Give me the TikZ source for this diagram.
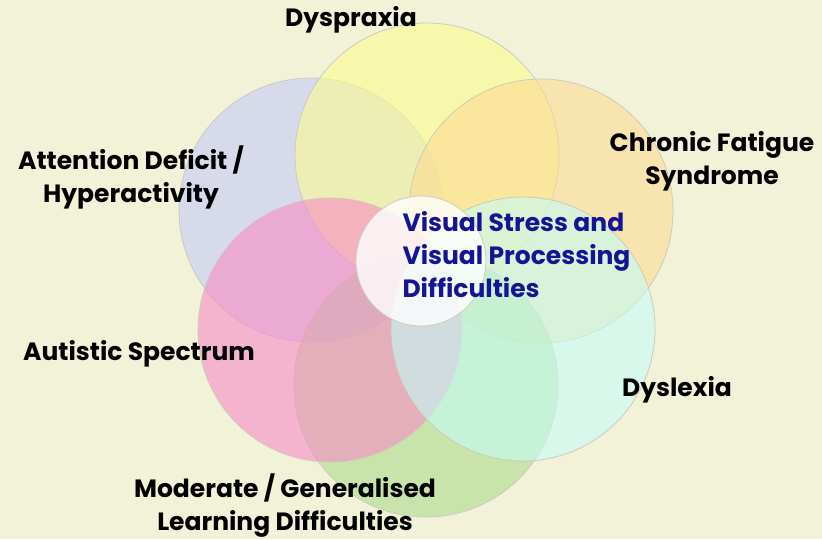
\documentclass[tikz,border=0pt]{standalone}
\usepackage{fontspec}
\setsansfont{Poppins}
\usetikzlibrary{positioning}
\definecolor{paper}{RGB}{242,242,217}
\definecolor{rim}{RGB}{205,202,190}
\definecolor{dysyel}{RGB}{252,252,142}
\definecolor{adhlav}{RGB}{197,202,247}
\definecolor{cfsorange}{RGB}{252,219,147}
\definecolor{autpink}{RGB}{247,139,197}
\definecolor{lexcyan}{RGB}{197,252,247}
\definecolor{mldgreen}{RGB}{172,219,139}
\definecolor{vsblue}{RGB}{20,20,150}

\begin{document}
\begin{tikzpicture}[x=1pt,y=-1pt,
  ring/.style={circle,draw=rim,line width=0.8pt,fill opacity=0.6,minimum size=264pt,inner sep=0pt},
  lbl/.style={font=\sffamily\bfseries\fontsize{25}{33}\selectfont,align=center,text=black}]
\fill[paper] (0,0) rectangle (822,539);
\useasboundingbox (0,0) rectangle (822,539);
% the six overlapping circles
\node[ring,fill=adhlav] (adh) at (311,210) {};
\node[ring,fill=dysyel] (dys) at (427,155) {};
\node[ring,fill=cfsorange] (cfs) at (541,211) {};
\node[ring,fill=mldgreen] (mld) at (426,385) {};
\node[ring,fill=autpink] (aut) at (330,330) {};
\node[ring,fill=lexcyan] (lex) at (523,329) {};
% centre
\node[circle,draw=rim,line width=0.8pt,fill=white,fill opacity=0.8,minimum size=130pt,inner sep=0pt] (vs) at (421,261) {};
\node[lbl,text=vsblue,align=left,anchor=west] (vstext) at (399,255) {Visual Stress and\\Visual Processing\\Difficulties};
% labels
\node[lbl] (dyslbl) at (351,20) {Dyspraxia};
\node[lbl] (adhlbl) at (131,177) {Attention Deficit /\\Hyperactivity};
\node[lbl] (cfslbl) at (712,161) {Chronic Fatigue\\Syndrome};
\node[lbl] (autlbl) at (139,354) {Autistic Spectrum};
\node[lbl] (lexlbl) at (677,390) {Dyslexia};
\node[lbl] (mldlbl) at (285,506) {Moderate / Generalised\\Learning Difficulties};
\end{tikzpicture}
\end{document}
